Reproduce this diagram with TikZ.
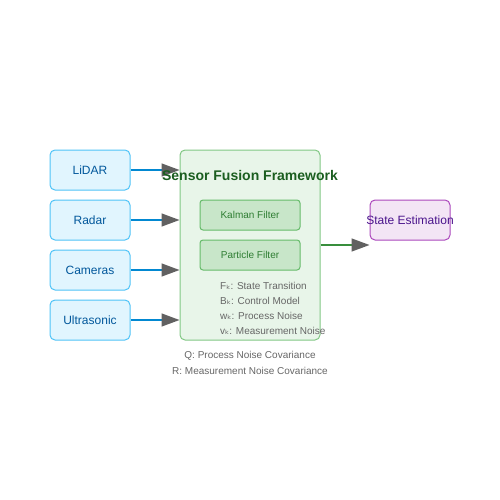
\documentclass[tikz,border=0pt]{standalone}
\usepackage{fontspec}
\setmainfont{Liberation Sans}
\newfontfamily\dvs{DejaVu Sans}
\usetikzlibrary{arrows.meta,positioning,calc}
\definecolor{sfill}{HTML}{E1F5FE}
\definecolor{sdraw}{HTML}{4FC3F7}
\definecolor{stext}{HTML}{01579B}
\definecolor{sline}{HTML}{0288D1}
\definecolor{ffill}{HTML}{E8F5E9}
\definecolor{fdraw}{HTML}{81C784}
\definecolor{ftext}{HTML}{1B5E20}
\definecolor{kfill}{HTML}{C8E6C9}
\definecolor{kdraw}{HTML}{66BB6A}
\definecolor{ktext}{HTML}{2E7D32}
\definecolor{oline}{HTML}{388E3C}
\definecolor{efill}{HTML}{F3E5F5}
\definecolor{edraw}{HTML}{AB47BC}
\definecolor{etext}{HTML}{4A148C}
\definecolor{agray}{HTML}{616161}
\definecolor{ngray}{HTML}{666666}
\newcommand{\ksub}{{\dvs\char"2096}}
\begin{document}
\begin{tikzpicture}[x=1pt,y=-1pt,
  sensor/.style={draw=sdraw,fill=sfill,rounded corners=5pt,line width=1pt,minimum width=80pt,minimum height=40pt,text=stext,font=\fontsize{12}{14}\selectfont,inner sep=0pt},
  filt/.style={draw=kdraw,fill=kfill,rounded corners=3pt,line width=1pt,minimum width=100pt,minimum height=30pt,text=ktext,font=\fontsize{10}{12}\selectfont,inner sep=0pt},
  inarrow/.style={draw=sline,line width=1.5pt,-{Triangle[length=18pt,width=13pt,color=agray]}},
  outarrow/.style={draw=oline,line width=1.5pt,-{Triangle[length=18pt,width=13pt,color=agray]}},
  note/.style={text=ngray,font=\fontsize{10}{12}\selectfont,inner sep=0pt,anchor=west}]
\useasboundingbox (0,0) rectangle (500,500);
\node[sensor] (lidar) at (90,170) {LiDAR};
\node[sensor] (radar) at (90,220) {Radar};
\node[sensor] (cam) at (90,270) {Cameras};
\node[sensor] (ultra) at (90,320) {Ultrasonic};
\node[draw=fdraw,fill=ffill,rounded corners=5pt,line width=1pt,minimum width=140pt,minimum height=190pt,inner sep=0pt] (fw) at (250,245) {};
\node[filt] (kf) at (250,215) {Kalman Filter};
\node[filt] (pf) at (250,255) {Particle Filter};
\node[draw=edraw,fill=efill,rounded corners=5pt,line width=1pt,minimum width=80pt,minimum height=40pt,inner sep=0pt] (se) at (410,220) {};
\node[text=etext,font=\fontsize{12}{14}\selectfont,inner sep=0pt] (setext) at (se.center) {State Estimation};
\foreach \s in {lidar,radar,cam,ultra}
  \draw[inarrow] (\s.east) -- (\s.east -| fw.west);
\coordinate (oend) at (fw.east -| se.west);
\draw[outarrow] (fw.east) -- (oend);
\node[text=ftext,font=\bfseries\fontsize{14}{16}\selectfont,inner sep=0pt] (title) at (250,175) {Sensor Fusion Framework};
\node[note] (n1) at (220,286) {F\ksub: State Transition};
\node[note] (n2) at (220,301) {B\ksub: Control Model};
\node[note] (n3) at (220,316) {w\ksub: Process Noise};
\node[note] (n4) at (220,331) {v\ksub: Measurement Noise};
\node[text=ngray,font=\fontsize{10}{12}\selectfont,inner sep=0pt] (q) at (250,356) {Q: Process Noise Covariance};
\node[text=ngray,font=\fontsize{10}{12}\selectfont,inner sep=0pt] (r) at (250,371) {R: Measurement Noise Covariance};
\end{tikzpicture}
\end{document}
